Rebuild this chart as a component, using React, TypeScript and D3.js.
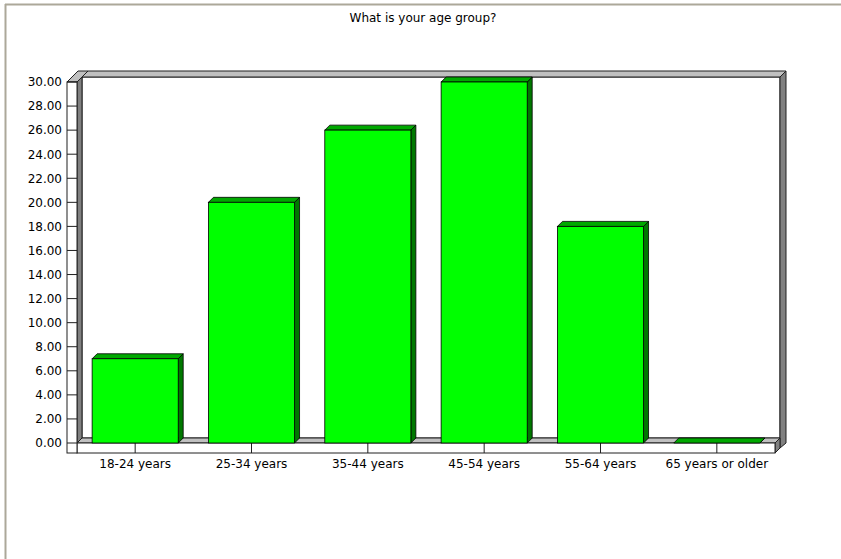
import * as d3 from 'd3';

const categories = ['18-24 years', '25-34 years', '35-44 years', '45-54 years', '55-64 years', '65 years or older'];
const values = [7, 20, 26, 30, 18, 0];
const yTicks = [0, 2, 4, 6, 8, 10, 12, 14, 16, 18, 20, 22, 24, 26, 28, 30];
const title = 'What is your age group?';

const W = 841;
const H = 559;
const D = 5; // bar / floor depth
const WALL = 6; // extra thickness of the back frame
const font = '"DejaVu Sans", Verdana, sans-serif';
const fs = 12;

const pts = (p: [number, number][]) => p.map((q) => q.join(',')).join(' ');

export default function App() {
  const x = d3.scaleBand<string>().domain(categories).range([77, 775]).paddingInner(0.26).paddingOuter(0.13);
  const y = d3.scaleLinear().domain([0, 30]).range([443, 82]);

  const x0 = 77;
  const x1 = 775;
  const y0 = y(0);
  const yTop = y(30);
  const stroke = '#202020';

  return (
    <div style={{ position: 'fixed', left: 0, top: 0, width: W, height: H, background: '#fff' }}>
      <svg width={W} height={H} style={{ display: 'block', fontFamily: font }}>
        <rect x={0} y={0} width={W} height={H} fill="#ffffff" />
        {/* outer frame lines */}
        <line x1={5} x2={W} y1={4.5} y2={4.5} stroke="#aca899" strokeWidth={2} />
        <line x1={5.5} x2={5.5} y1={4} y2={H} stroke="#aca899" strokeWidth={2} />

        <text x={423} y={22} textAnchor="middle" fontSize={fs} fill="#000">
          {title}
        </text>

        {/* back wall */}
        <rect x={x0 + D} y={yTop - D} width={x1 - x0} height={y0 - yTop} fill="#fff" stroke={stroke} strokeWidth={1} />
        {/* top band */}
        <polygon
          points={pts([
            [x0 + D, yTop - D],
            [x0 + D + WALL, yTop - D - WALL],
            [x1 + D + WALL, yTop - D - WALL],
            [x1 + D, yTop - D],
          ])}
          fill="#c0c0c0"
          stroke={stroke}
          strokeWidth={1}
        />
        {/* right strip */}
        <polygon
          points={pts([
            [x1 + D, yTop - D],
            [x1 + D + WALL, yTop - D - WALL],
            [x1 + D + WALL, y0],
            [x1 + D, y0 + D],
          ])}
          fill="#808080"
          stroke={stroke}
          strokeWidth={1}
        />

        {/* left wall top face */}
        <polygon
          points={pts([
            [x0 - 10, yTop],
            [x0 + 1, yTop - D - WALL],
            [x0 + D + WALL, yTop - D - WALL],
            [x0, yTop],
          ])}
          fill="#c0c0c0"
          stroke={stroke}
          strokeWidth={1}
        />
        {/* left wall side face */}
        <polygon
          points={pts([
            [x0, yTop],
            [x0 + D, yTop - D],
            [x0 + D, y0 - D],
            [x0, y0],
          ])}
          fill="#808080"
          stroke={stroke}
          strokeWidth={1}
        />

        {/* floor top */}
        <polygon
          points={pts([
            [x0, y0],
            [x0 + D, y0 - D],
            [x1 + D, y0 - D],
            [x1, y0],
          ])}
          fill="#c0c0c0"
          stroke={stroke}
          strokeWidth={1}
        />
        {/* floor right face */}
        <polygon
          points={pts([
            [x1, y0],
            [x1 + D, y0 - D],
            [x1 + D, y0 - D + 10],
            [x1, y0 + 10],
          ])}
          fill="#808080"
          stroke={stroke}
          strokeWidth={1}
        />
        {/* floor front */}
        <rect x={x0} y={y0} width={x1 - x0} height={10} fill="#fff" stroke={stroke} strokeWidth={1} />
        {categories.map((c) => (
          <line
            key={c}
            x1={(x(c) ?? 0) + x.bandwidth() / 2}
            x2={(x(c) ?? 0) + x.bandwidth() / 2}
            y1={y0}
            y2={y0 + 10}
            stroke={stroke}
          />
        ))}

        {/* left wall front */}
        <rect x={x0 - 10} y={yTop} width={10} height={y0 + 10 - yTop} fill="#fff" stroke={stroke} strokeWidth={1} />
        {yTicks.map((t) => (
          <g key={t}>
            <line x1={x0 - 10} x2={x0} y1={y(t)} y2={y(t)} stroke={stroke} />
            <text x={62} y={y(t)} dy="0.36em" textAnchor="end" fontSize={fs} fill="#000">
              {d3.format('.2f')(t)}
            </text>
          </g>
        ))}

        {/* bars */}
        {categories.map((c, i) => {
          const bx = x(c) ?? 0;
          const bw = x.bandwidth();
          const yv = y(values[i]);
          return (
            <g key={c}>
              <polygon
                points={pts([
                  [bx + bw, yv],
                  [bx + bw + D, yv - D],
                  [bx + bw + D, y0 - D],
                  [bx + bw, y0],
                ])}
                fill="#007800"
                stroke="#000"
                strokeWidth={0.8}
              />
              <polygon
                points={pts([
                  [bx, yv],
                  [bx + D, yv - D],
                  [bx + bw + D, yv - D],
                  [bx + bw, yv],
                ])}
                fill="#00a800"
                stroke="#000"
                strokeWidth={0.8}
              />
              {values[i] > 0 && (
                <rect x={bx} y={yv} width={bw} height={y0 - yv} fill="#00ff00" stroke="#000" strokeWidth={0.8} />
              )}
            </g>
          );
        })}

        {categories.map((c) => (
          <text
            key={c}
            x={(x(c) ?? 0) + x.bandwidth() / 2}
            y={468}
            textAnchor="middle"
            fontSize={fs}
            fill="#000"
          >
            {c}
          </text>
        ))}
      </svg>
    </div>
  );
}
